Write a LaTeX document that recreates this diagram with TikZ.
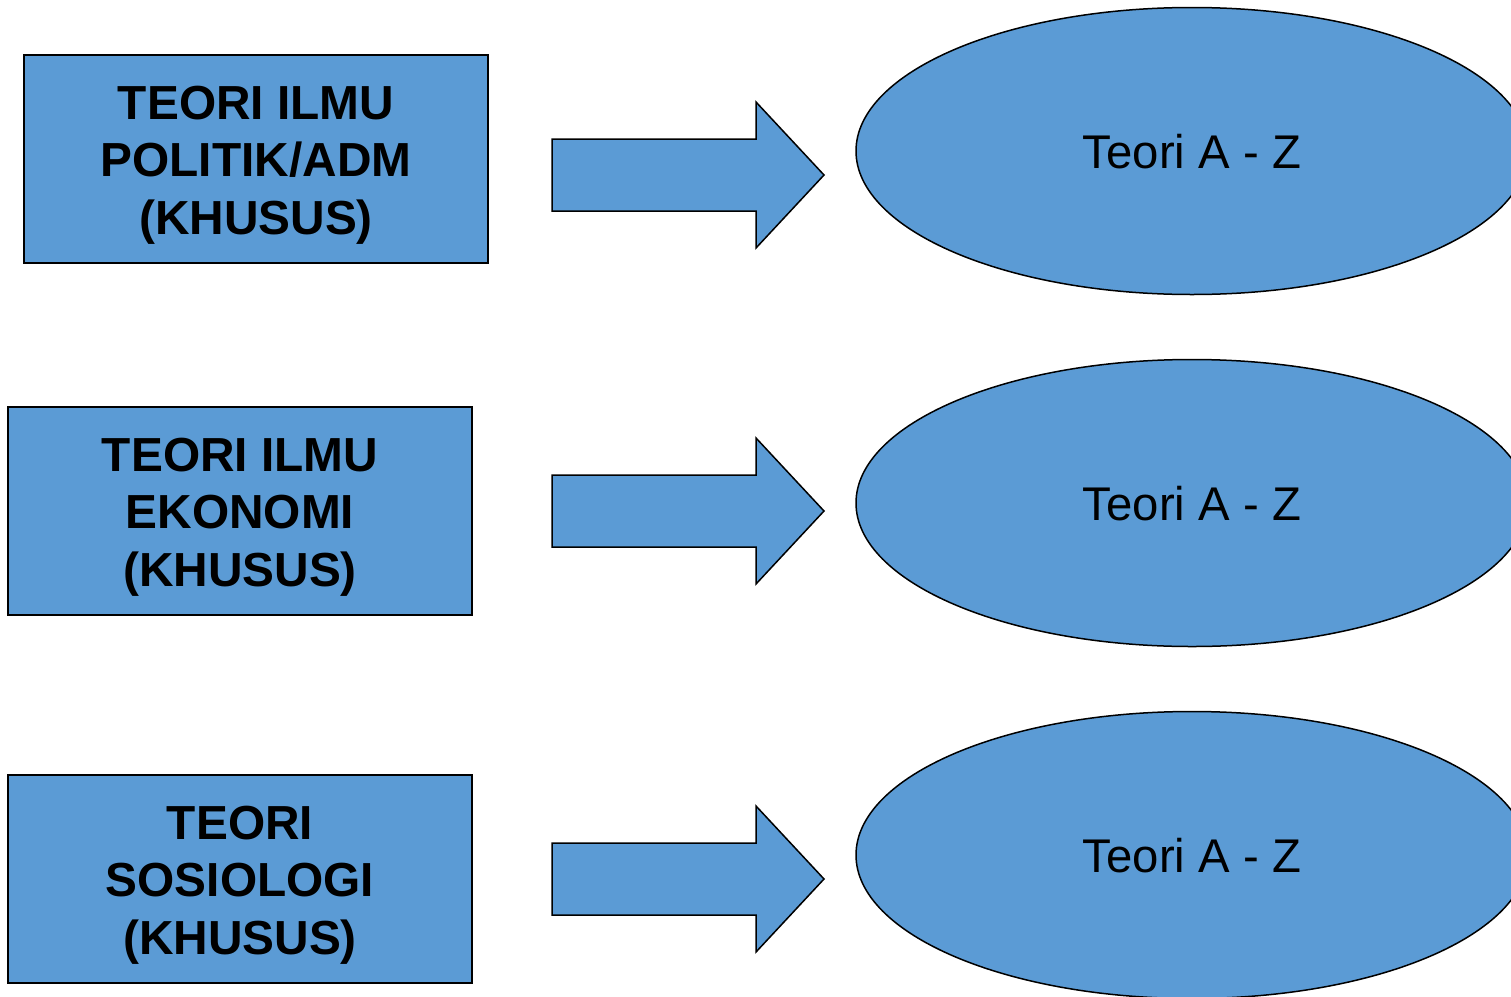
\documentclass[tikz,border=0pt]{standalone}
\usepackage{fontspec}
\setmainfont{Liberation Sans}
\usetikzlibrary{shapes.geometric}
\definecolor{fillblue}{HTML}{5B9BD5}
\begin{document}
\begin{tikzpicture}[x=1pt,y=-1pt,
  box/.style={draw=black,line width=1.5pt,fill=fillblue},
  boxtext/.style={align=center,font=\fontsize{47.8}{57.5}\selectfont\bfseries,text=black},
  blockarrow/.style={draw=black,line width=1.5pt,fill=fillblue},
  oval/.style={draw=black,line width=1.5pt,fill=fillblue},
  ovaltext/.style={font=\fontsize{47.3}{55}\selectfont,text=black}]
\useasboundingbox (0,0) rectangle (1511,996);
\begin{scope}
\clip (0,0) rectangle (1511,996);
% boxes
\draw[box] (24,55) rectangle (488,263);
\node[boxtext] (b1) at (256,165) {TEORI ILMU\\POLITIK/ADM\\(KHUSUS)};
\draw[box] (8,407) rectangle (472,615);
\node[boxtext] (b2) at (240,517) {TEORI ILMU\\EKONOMI\\(KHUSUS)};
\draw[box] (8,775) rectangle (472,983);
\node[boxtext] (b3) at (240,885) {TEORI\\SOSIOLOGI\\(KHUSUS)};
% arrows
\foreach \yc in {175,511,879}{
  \draw[blockarrow] (552,\yc-36) -- (756,\yc-36) -- (756,\yc-73) -- (824,\yc) -- (756,\yc+73) -- (756,\yc+36) -- (552,\yc+36) -- cycle;
}
% ellipses
\draw[oval] (1192,151) ellipse [x radius=336,y radius=143.5];
\node[ovaltext] (e1) at (1192,152) {Teori A - Z};
\draw[oval] (1192,503) ellipse [x radius=336,y radius=143.5];
\node[ovaltext] (e2) at (1192,504) {Teori A - Z};
\draw[oval] (1192,855) ellipse [x radius=336,y radius=143.5];
\node[ovaltext] (e3) at (1192,856) {Teori A - Z};
\end{scope}
\end{tikzpicture}
\end{document}
